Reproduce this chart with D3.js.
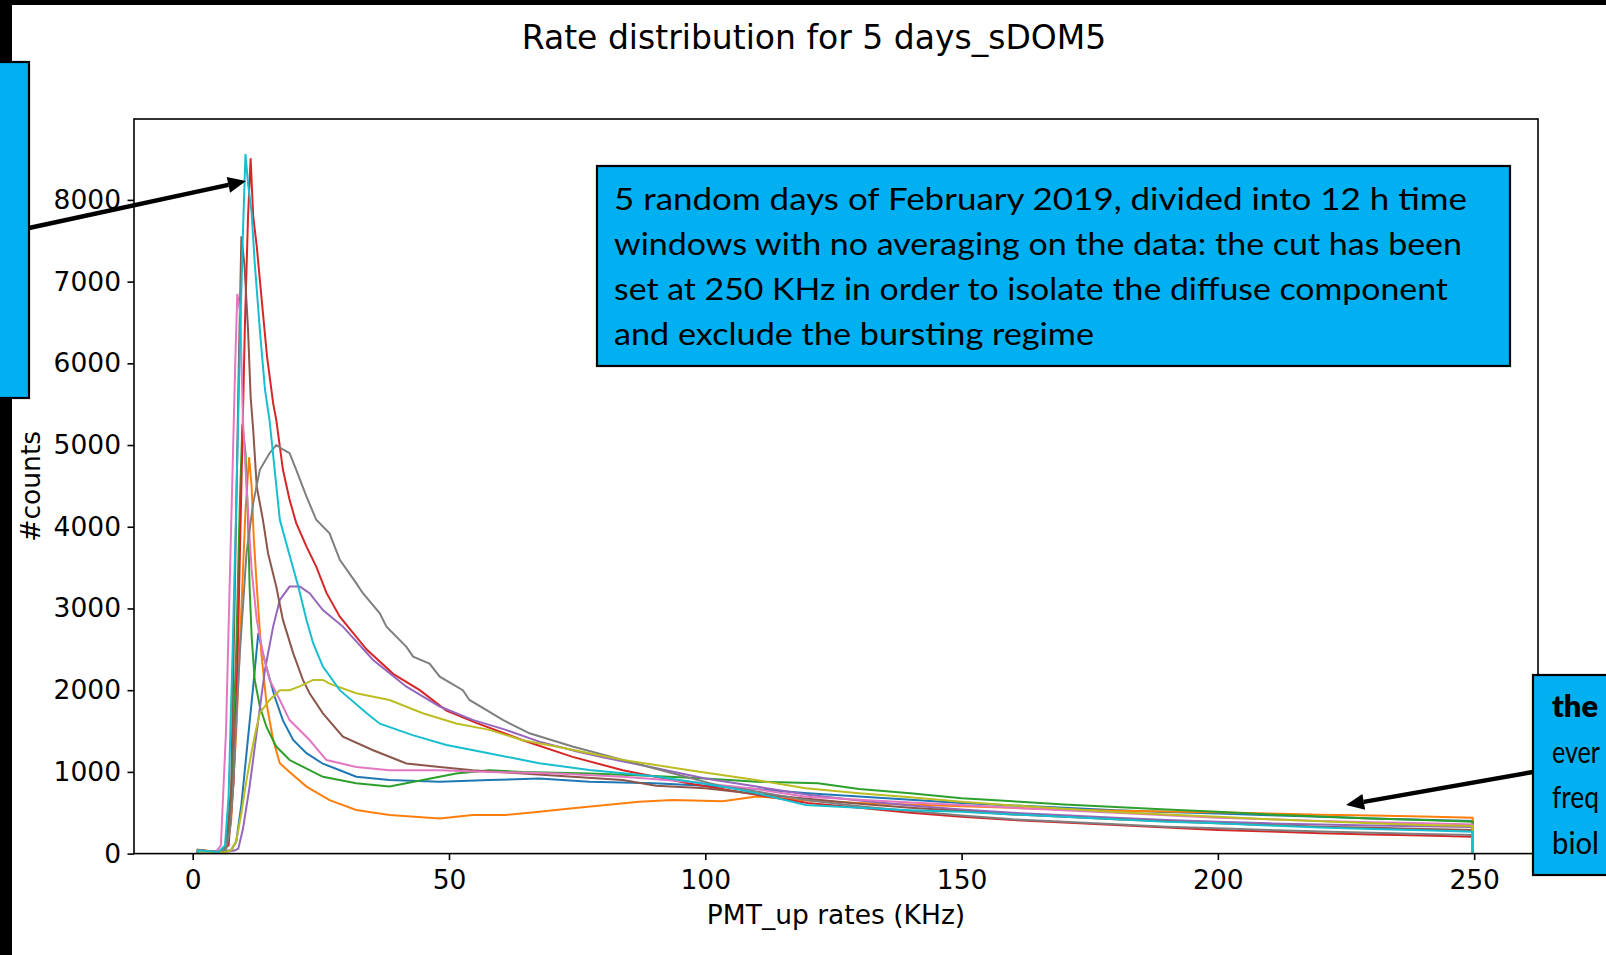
<!DOCTYPE html>
<html>
<head>
<meta charset="utf-8">
<script src="https://cdn.jsdelivr.net/npm/d3@7"></script>
<style>
  html, body { margin: 0; padding: 0; background: #fff; }
  svg { display: block; }
</style>
</head>
<body>
<svg id="chart" width="1606" height="955"></svg>
<script>
// PMT_up rate histograms, one per 12 h window: [rate in KHz, counts]
const win01 = [[1,45],[5,20],[7.5,40],[8.5,150],[9.5,600],[10.5,1230],[11.8,2045],[12.8,2700],[13.7,2450],[14.7,2210],[16,1920],[17.6,1630],[19.6,1390],[22.2,1230],[25.4,1100],[28.7,1020],[31.9,940],[38.4,900],[48.2,880],[57.9,900],[67.6,920],[77.4,880],[90,860],[100,830],[110,790],[120,740],[130,700],[140,660],[150,620],[160,590],[170,560],[180,530],[190,510],[200,490],[210,470],[220,450],[230,430],[240,415],[249.7,400]];
const win02 = [[1,50],[5,20],[6.5,60],[7.5,400],[8.5,1500],[9.5,3000],[10.3,4200],[11.0,4850],[11.5,4490],[11.9,3880],[12.5,3270],[13.4,2450],[14.4,1840],[15.7,1390],[17.0,1105],[18.9,1000],[22.2,820],[26.7,655],[31.9,533],[38.4,472],[48.2,431],[54.6,472],[61.1,472],[67.6,513],[74.1,554],[80.6,594],[87.1,635],[93.6,655],[103.4,640],[110,700],[120,650],[130,620],[140,600],[150,580],[160,560],[170,540],[180,525],[190,515],[200,505],[210,490],[220,475],[230,465],[240,455],[249.7,440]];
const win03 = [[1,40],[5,20],[6.5,60],[7.5,600],[8.5,2500],[9.2,4300],[9.7,5250],[10.3,4900],[10.8,4085],[11.1,3270],[11.5,2656],[12.1,2125],[13.1,1800],[14.4,1550],[16.3,1310],[18.9,1145],[25.4,940],[31.9,860],[38.4,820],[44.9,900],[51.4,980],[57.9,1020],[64.4,1000],[77.4,980],[90,950],[100,920],[110,880],[122,860],[130,790],[140,740],[150,676],[160,640],[170,600],[180,570],[190,540],[200,513],[210,480],[220,455],[230,430],[240,410],[249.7,390]];
const win04 = [[1,40],[5,20],[7,100],[8,900],[8.8,2500],[9.5,4500],[10.2,6500],[10.8,7800],[11.3,8510],[11.8,7800],[12.5,7430],[13.4,6820],[14.5,6085],[15.7,5510],[16.3,5310],[17.6,4700],[18.9,4330],[20.2,4045],[22.2,3757],[24.1,3512],[26.1,3190],[28.7,2900],[33.9,2500],[39.1,2200],[44.3,2000],[49.5,1750],[55.3,1600],[64.4,1388],[74.1,1184],[83.9,1020],[96.9,857],[110,720],[120,620],[130,560],[140,500],[150,452],[160,410],[170,380],[180,350],[190,320],[200,289],[210,270],[220,250],[230,235],[240,220],[249.7,207]];
const win05 = [[1,30],[6,15],[8.3,40],[8.9,60],[9.8,300],[11.1,820],[12.8,1635],[14.1,2250],[15.7,2780],[17,3105],[18.9,3268],[20.9,3268],[22.8,3187],[25.4,2980],[29.3,2778],[35.2,2370],[41.7,2043],[48.2,1800],[54.6,1636],[61.1,1514],[67.6,1370],[75,1250],[80,1180],[90,1050],[100,920],[110,820],[120,720],[130,650],[140,590],[150,540],[160,500],[170,470],[180,440],[190,410],[200,390],[210,370],[220,355],[230,345],[240,335],[249.7,325]];
const win06 = [[1,40],[5,20],[6.5,80],[7.5,800],[8.3,3500],[9.0,6000],[9.5,7555],[10.1,7200],[10.8,6410],[11.3,5594],[11.8,5187],[12.5,4490],[13.7,4085],[14.7,3676],[16.3,3268],[17.6,2860],[19.6,2453],[21.5,2125],[22.8,1962],[25.4,1717],[29.3,1430],[35.2,1265],[41.7,1102],[48.2,1061],[54.6,1020],[64.4,980],[74.1,940],[83.9,900],[90.4,830],[100,800],[110,730],[120,670],[130,610],[140,560],[150,520],[160,480],[170,450],[180,420],[190,395],[200,370],[210,350],[220,330],[230,315],[240,300],[249.7,290]];
const win07 = [[1,40],[4.5,20],[5.5,100],[6.5,1500],[7.5,4000],[8.3,6000],[8.7,6850],[9.3,6600],[9.8,5310],[10.5,4490],[11.5,3472],[12.5,2860],[13.7,2453],[15.0,2125],[17.0,1880],[18.9,1634],[22.8,1390],[26.1,1145],[31.9,1061],[38.4,1020],[48.2,1020],[57.9,1000],[70.9,980],[83.9,940],[96.9,880],[110,790],[119.6,697],[130,660],[140,625],[150,595],[160,560],[170,530],[180,500],[190,470],[200,440],[210,420],[220,400],[230,385],[240,370],[249.7,355]];
const win08 = [[1,40],[5,20],[6.5,60],[7.3,300],[7.9,820],[8.5,1636],[9.2,2453],[10.5,3677],[11.8,4290],[13.1,4697],[15,4900],[16.3,5000],[17.5,4950],[18.9,4900],[20.2,4697],[22.2,4370],[24.1,4085],[26.7,3920],[28.7,3595],[31.9,3310],[33.2,3187],[36.5,2940],[37.8,2778],[41.7,2530],[43,2411],[46.2,2325],[48.2,2165],[52.7,2000],[54,1880],[60.5,1636],[65.7,1472],[74.1,1310],[83.9,1147],[93.6,983],[103.4,820],[110,760],[119.6,655],[130,580],[140,520],[150,465],[160,420],[170,390],[180,360],[190,330],[200,309],[210,290],[220,270],[230,255],[240,240],[249.7,227]];
const win09 = [[1,30],[6,15],[7.5,40],[8.5,150],[9.5,500],[10.5,900],[11.5,1250],[12.3,1500],[13.1,1720],[15,1880],[17,2000],[18.9,2000],[21,2050],[23.5,2125],[25.4,2125],[26.7,2080],[31.9,1962],[38.4,1880],[44.9,1717],[51.4,1593],[57.9,1514],[64.4,1388],[70.9,1310],[77.4,1228],[83.9,1147],[96.9,1020],[109.9,900],[119.6,800],[130,740],[140,690],[150,635],[160,590],[170,550],[180,510],[190,480],[200,451],[210,420],[220,395],[230,370],[240,350],[249.7,337]];
const win10 = [[1,40],[5,20],[6.3,100],[7.0,700],[7.8,2500],[8.5,4300],[9.2,6200],[9.8,7600],[10.3,8560],[10.8,8200],[11.5,7840],[12.1,7230],[13.1,6410],[14.1,5680],[15.0,5300],[17.0,4085],[18.9,3650],[20.6,3268],[22.2,2860],[23.5,2575],[25.4,2289],[28.7,2000],[33.9,1720],[36.5,1590],[42.9,1450],[49.5,1330],[56,1250],[67.6,1105],[77.4,1024],[90.4,943],[103.4,820],[110,740],[119.6,594],[130,560],[140,530],[150,513],[160,480],[170,450],[180,420],[190,390],[200,370],[210,345],[220,320],[230,300],[240,285],[249.7,268]];

const windows = [win01, win02, win03, win04, win05, win06, win07, win08, win09, win10];
const windowColors = ["#1f77b4", "#ff7f0e", "#2ca02c", "#d62728", "#9467bd",
                      "#8c564b", "#e377c2", "#7f7f7f", "#bcbd22", "#17becf"];

const xTicks = [0, 50, 100, 150, 200, 250];
const yTicks = [0, 1000, 2000, 3000, 4000, 5000, 6000, 7000, 8000];

const titleText = "Rate distribution for 5 days_sDOM5";
const xLabel = "PMT_up rates (KHz)";
const yLabel = "#counts";
const noteLines = [
  "5 random days of February 2019, divided into 12 h time",
  "windows with no averaging on the data: the cut has been",
  "set at 250 KHz in order to isolate the diffuse component",
  "and exclude the bursting regime"
];
// the right-hand callout runs past the slide edge; only its first letters show
const sideLines = ["the", "ever", "freq", "biol"];

// ---------------------------------------------------------------
const W = 1606, H = 955;
const plot = { left: 134, right: 1538, top: 119, bottom: 853.6 };
const chartFont = "'DejaVu Sans', sans-serif";
const noteFont = "Lato, 'Open Sans', sans-serif";
const boxBlue = "#00b0f0";

const svg = d3.select("#chart");
svg.append("rect").attr("width", W).attr("height", H).attr("fill", "#fff");

// slide frame: black top bar and left strip
svg.append("rect").attr("x", 0).attr("y", 0).attr("width", W).attr("height", 5).attr("fill", "#000");
svg.append("rect").attr("x", 0).attr("y", 0).attr("width", 12).attr("height", H).attr("fill", "#000");

const x = d3.scaleLinear().domain([-11.45, 262.45]).range([plot.left, plot.right]);
const y = d3.scaleLinear().domain([0, 8990]).range([plot.bottom, plot.top]);

// title
svg.append("text")
  .attr("x", 814).attr("y", 49)
  .attr("text-anchor", "middle")
  .attr("font-family", chartFont).attr("font-size", 33)
  .text(titleText);

// histogram outlines (closed to the baseline at both ends)
const line = d3.line().x(d => x(d[0])).y(d => y(d[1]));
const gSeries = svg.append("g");
windows.forEach((vals, i) => {
  const pts = [[vals[0][0], 0], ...vals, [vals[vals.length - 1][0], 0]];
  gSeries.append("path")
    .attr("d", line(pts))
    .attr("fill", "none")
    .attr("stroke", windowColors[i])
    .attr("stroke-width", 2)
    .attr("stroke-linejoin", "miter");
});

// axes
const xAxis = d3.axisBottom(x).tickValues(xTicks).tickSize(6.5).tickPadding(10).tickFormat(d3.format("d"));
const yAxis = d3.axisLeft(y).tickValues(yTicks).tickSize(6.5).tickPadding(6.5).tickFormat(d3.format("d"));

const gx = svg.append("g").attr("transform", `translate(0,${plot.bottom})`).call(xAxis);
const gy = svg.append("g").attr("transform", `translate(${plot.left},0)`).call(yAxis);
[gx, gy].forEach(g => {
  g.select(".domain").remove();
  g.selectAll(".tick line").attr("stroke", "#000").attr("stroke-width", 1.6);
  g.selectAll(".tick text")
    .attr("fill", "#000")
    .attr("font-family", chartFont)
    .attr("font-size", 26.5);
});

// axes frame
svg.append("rect")
  .attr("x", plot.left).attr("y", plot.top)
  .attr("width", plot.right - plot.left).attr("height", plot.bottom - plot.top)
  .attr("fill", "none").attr("stroke", "#000").attr("stroke-width", 1.6);

// axis labels
svg.append("text")
  .attr("x", (plot.left + plot.right) / 2).attr("y", 924)
  .attr("text-anchor", "middle")
  .attr("font-family", chartFont).attr("font-size", 26.5)
  .text(xLabel);
svg.append("text")
  .attr("transform", `translate(40,${(plot.top + plot.bottom) / 2}) rotate(-90)`)
  .attr("text-anchor", "middle")
  .attr("font-family", chartFont).attr("font-size", 26.5)
  .text(yLabel);

// note box
const note = svg.append("g");
note.append("rect")
  .attr("x", 597).attr("y", 166).attr("width", 913).attr("height", 200)
  .attr("fill", boxBlue).attr("stroke", "#000").attr("stroke-width", 2.2);
const noteWidths = [853, 848, 834, 480];
noteLines.forEach((t, i) => {
  note.append("text")
    .attr("x", 614).attr("y", 210 + i * 45)
    .attr("font-family", noteFont).attr("font-size", 30)
    .attr("textLength", noteWidths[i]).attr("lengthAdjust", "spacingAndGlyphs")
    .attr("fill", "#000")
    .text(t);
});

// side boxes (running off the slide edges)
svg.append("rect")
  .attr("x", -6).attr("y", 62).attr("width", 35).attr("height", 336)
  .attr("fill", boxBlue).attr("stroke", "#000").attr("stroke-width", 2.2);

const side = svg.append("g");
side.append("rect")
  .attr("x", 1533).attr("y", 675).attr("width", 120).attr("height", 200)
  .attr("fill", boxBlue).attr("stroke", "#000").attr("stroke-width", 2.2);
const sideWidths = [46, 48, 47, 47];
sideLines.forEach((t, i) => {
  side.append("text")
    .attr("x", 1552).attr("y", 717 + i * 45.5)
    .attr("font-family", noteFont).attr("font-size", 30)
    .attr("font-weight", i === 0 ? 800 : 400)
    .attr("textLength", sideWidths[i]).attr("lengthAdjust", "spacingAndGlyphs")
    .attr("fill", "#000")
    .text(t);
});

// arrows pointing at the peak and at the flat tail
function arrow(x0, y0, x1, y1) {
  const ang = Math.atan2(y1 - y0, x1 - x0);
  const len = 18, half = 8;
  const bx = x1 - len * Math.cos(ang), by = y1 - len * Math.sin(ang);
  svg.append("line")
    .attr("x1", x0).attr("y1", y0).attr("x2", bx).attr("y2", by)
    .attr("stroke", "#000").attr("stroke-width", 4.5);
  const px = -Math.sin(ang) * half, py = Math.cos(ang) * half;
  svg.append("path")
    .attr("d", `M${x1},${y1}L${bx + px},${by + py}L${bx - px},${by - py}Z`)
    .attr("fill", "#000");
}
arrow(29, 228, x(10.4), y(8230));
arrow(1533, 772, x(225), y(595));
</script>
</body>
</html>
